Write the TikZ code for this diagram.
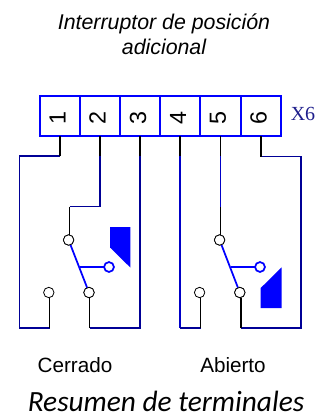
\documentclass[tikz,border=0pt]{standalone}
\usepackage{fontspec}
\setmainfont{Liberation Sans}
\newfontfamily\carlito{Carlito}
\newfontfamily\libserif{Liberation Serif}
\definecolor{sblue}{RGB}{0,0,255}
\definecolor{snavy}{RGB}{0,0,150}
\definecolor{mblue}{RGB}{0,0,200}
\definecolor{xnavy}{RGB}{30,30,140}
\tikzset{
  x=0.75pt,y=-0.75pt,
  cellbox/.style={draw=sblue,line width=1.3pt,minimum width=30pt,minimum height=30pt,inner sep=0pt,outer sep=0pt,fill=white},
  digit/.style={rotate=90,font=\fontsize{17.5pt}{18pt}\selectfont,inner sep=0pt},
  blk/.style={draw=black,line width=1.3pt},
  nvy/.style={draw=snavy,line width=1.3pt},
  mid/.style={draw=mblue,line width=1.3pt},
  blu/.style={draw=sblue,line width=1.3pt},
  term/.style={circle,draw=black,fill=white,line width=0.6pt,minimum size=7.8pt,inner sep=0pt,outer sep=0pt},
  coil/.style={circle,draw=sblue,fill=white,line width=1.3pt,minimum size=7.4pt,inner sep=0pt,outer sep=0pt},
  cam/.style={fill=sblue,draw=none},
  sans/.style={font=\fontsize{15.5pt}{17pt}\selectfont,inner sep=0pt}
}
\begin{document}
\begin{tikzpicture}
\useasboundingbox (0,0) rectangle (325,415);
\foreach \n/\x/\dx in {1/60/57.5,2/100/97.5,3/140/138,4/180.2/178,5/220.6/218,6/261/258.5}{
  \node[cellbox] (c\n) at (\x,116) {};
  \node[digit] (d\n) at (\dx,118) {\n};
}
\node[font=\libserif\fontsize{15pt}{17pt}\selectfont,text=xnavy,inner sep=0pt] (x6) at (303,114) {X6};
% anchors
\coordinate (a1) at (60,156);
\coordinate (a1b) at (19.5,156);
\coordinate (a1c) at (19.5,328);
\coordinate (a1d) at (49.5,328);
\node[term] (t1) at (48.8,292.5) {};
\coordinate (a2) at (100,156);
\coordinate (a2b) at (100,206.5);
\coordinate (a2c) at (69.5,206.5);
\node[term] (t2) at (68.6,240) {};
\node[term] (t3) at (89,292.5) {};
\coordinate (a3) at (140,156);
\coordinate (a3b) at (140,328);
\coordinate (a3c) at (89.5,328);
\coordinate (a4) at (180.2,156);
\coordinate (a4b) at (180.2,328);
\coordinate (a4c) at (200.5,328);
\node[term] (t4) at (199.6,292.5) {};
\coordinate (a5) at (220.6,156);
\coordinate (a5b) at (220.6,207);
\node[term] (t5) at (219.6,240) {};
\node[term] (t6) at (239.8,292.5) {};
\coordinate (a6) at (261,156.5);
\coordinate (a6b) at (301,156.5);
\coordinate (a6c) at (301,328);
\coordinate (a6d) at (241,328);
\node[coil] (k1) at (109,267) {};
\node[coil] (k2) at (260,267) {};
\coordinate (m1) at (80,267);
\coordinate (m2) at (231,267);
% wires
\draw[nvy] (a1) -- (a1b) -- (a1c) -- (a1d);
\draw[blk] (c1.south) -- (a1);
\draw[blk] (a1d) -- (a1d |- t1.south);
\draw[nvy] (a2) -- (a2b) -- (a2c);
\draw[blk] (c2.south) -- (a2);
\draw[blk] (a2c) -- (a2c |- t2.north);
\draw[nvy] (a3) -- (a3b) -- (a3c);
\draw[blk] (c3.south) -- (a3);
\draw[blk] (a3c) -- (a3c |- t3.south);
\draw[mid] (a4) -- (a4b);
\draw[nvy] (a4b) -- (a4c);
\draw[blk] (c4.south) -- (a4);
\draw[blk] (a4c) -- (a4c |- t4.south);
\draw[mid] (a5) -- (a5b);
\draw[blk] (c5.south) -- (a5);
\draw[blk] (a5b) -- (a5b |- t5.north);
\draw[nvy] (a6) -- (a6b) -- (a6c) -- (a6d);
\draw[blk] (c6.south) -- (a6);
\draw[blk] (a6d) -- (a6d |- t6.south);
% levers
\draw[blu] (t2) -- (t3);
\draw[blu] (t5) -- (t6);
\draw[blu] (m1) -- (k1);
\draw[blu] (m2) -- (k2);
\node[term] at (t2) {};
\node[term] at (t3) {};
\node[term] at (t5) {};
\node[term] at (t6) {};
% cams
\fill[cam] (110,227) -- (130.3,227) -- (130.3,267.5) -- (110,247.5) -- cycle;
\fill[cam] (260.7,288) -- (281.7,267.3) -- (281.7,308) -- (260.7,308) -- cycle;
% text
\node[font=\itshape\fontsize{16pt}{19pt}\selectfont,align=center,inner sep=0pt] (title) at (164,34.5) {Interruptor de posición\\adicional};
\node[sans] (cl) at (75,365) {Cerrado};
\node[sans] (op) at (233,365) {Abierto};
\node[font=\carlito\itshape\fontsize{22pt}{24pt}\selectfont,inner sep=0pt,anchor=base] (res) at (166,411.5) {Resumen de terminales};
\end{tikzpicture}
\end{document}
